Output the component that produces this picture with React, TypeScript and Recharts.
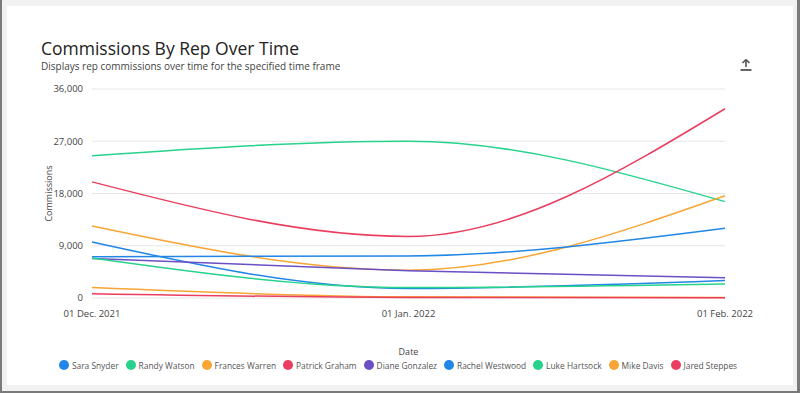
import { LineChart, Line, XAxis, YAxis, CartesianGrid, Legend } from 'recharts';

const dates = ['01 Dec. 2021', '01 Jan. 2022', '01 Feb. 2022'];

const saraSnyder = [9650, 1650, 3000];
const randyWatson = [24500, 27000, 16600];
const francesWarren = [12400, 4800, 17600];
const patrickGraham = [20000, 10600, 32600];
const dianeGonzalez = [6800, 4700, 3500];
const rachelWestwood = [7100, 7250, 12000];
const lukeHartsock = [6900, 1800, 2400];
const mikeDavis = [1800, 200, 100];
const jaredSteppes = [750, 100, 60];

const yTicks = [0, 9000, 18000, 27000, 36000];

const BLUE = '#2186e6';
const GREEN = '#27d38b';
const ORANGE = '#f7a535';
const RED = '#eb3d5f';
const PURPLE = '#6a4fc6';

const series = [
  { key: 'Sara Snyder', values: saraSnyder, color: BLUE },
  { key: 'Randy Watson', values: randyWatson, color: GREEN },
  { key: 'Frances Warren', values: francesWarren, color: ORANGE },
  { key: 'Patrick Graham', values: patrickGraham, color: RED },
  { key: 'Diane Gonzalez', values: dianeGonzalez, color: PURPLE },
  { key: 'Rachel Westwood', values: rachelWestwood, color: BLUE },
  { key: 'Luke Hartsock', values: lukeHartsock, color: GREEN },
  { key: 'Mike Davis', values: mikeDavis, color: ORANGE },
  { key: 'Jared Steppes', values: jaredSteppes, color: RED },
];

const data = dates.map((date, i) => {
  const row: Record<string, string | number> = { date };
  series.forEach((s) => {
    row[s.key] = s.values[i];
  });
  return row;
});

const FONT = '"Open Sans", "Noto Sans", sans-serif';

const ExportIcon = () => (
  <svg width={14} height={14} viewBox="0 0 14 14" style={{ position: 'absolute', left: 737, top: 58 }}>
    <path d="M7 1.5 L3.5 5 M7 1.5 L10.5 5 M7 1.5 L7 9" stroke="#555" strokeWidth={1.6} fill="none" />
    <line x1={1.5} y1={12} x2={12.5} y2={12} stroke="#555" strokeWidth={1.8} />
  </svg>
);

// keep the legend in series order, on one line
const RepLegend = () => (
  <div
    style={{
      height: 20,
      width: 796,
      display: 'flex',
      justifyContent: 'center',
      alignItems: 'center',
      gap: 7,
      fontSize: 8.4,
      color: '#555',
      fontFamily: FONT,
      whiteSpace: 'nowrap',
    }}
  >
    {series.map((s) => (
      <span key={s.key} style={{ display: 'flex', alignItems: 'center', gap: 3 }}>
        <svg width={10} height={10}>
          <circle cx={5} cy={5} r={5} fill={s.color} />
        </svg>
        {s.key}
      </span>
    ))}
  </div>
);

export default function App() {
  return (
    <div
      style={{
        position: 'fixed',
        left: 0,
        top: 0,
        width: 800,
        height: 393,
        boxSizing: 'border-box',
        background: '#f1f1f1',
        borderLeft: '2px solid #7a7a7a',
        borderRight: '3px solid #7a7a7a',
        borderBottom: '2px solid #7a7a7a',
        fontFamily: FONT,
        overflow: 'hidden',
      }}
    >
      <div
        style={{
          position: 'absolute',
          left: 5,
          top: 6,
          width: 786,
          height: 379,
          background: '#fff',
        }}
      />
      <div style={{ position: 'absolute', left: 39, top: 38, fontSize: 17.5, lineHeight: '20px', color: '#222', whiteSpace: 'nowrap' }}>
        Commissions By Rep Over Time
      </div>
      <div style={{ position: 'absolute', left: 39, top: 60, fontSize: 10, lineHeight: '12px', color: '#444', whiteSpace: 'nowrap' }}>
        Displays rep commissions over time for the specified time frame
      </div>
      <ExportIcon />
      <div style={{ position: 'absolute', left: -2, top: 0 }}>
        <LineChart width={800} height={393} data={data} margin={{ top: 89, right: 75, left: 2, bottom: 18 }}>
          <CartesianGrid vertical={false} stroke="#e6e6e6" />
          <XAxis
            dataKey="date"
            axisLine={false}
            tickLine={false}
            tick={{ fontSize: 9.5, fill: '#444', fontFamily: FONT }}
            tickMargin={6}
            height={57}
            label={{ value: 'Date', position: 'insideBottom', offset: 0, fontSize: 9, fill: '#444', fontFamily: FONT }}
          />
          <YAxis
            domain={[0, 36000]}
            ticks={yTicks}
            axisLine={false}
            tickLine={false}
            width={90}
            tickMargin={3}
            tick={{ fontSize: 9.5, fill: '#444', fontFamily: FONT }}
            tickFormatter={(v: number) => v.toLocaleString('en-US')}
            label={{
              value: 'Commissions',
              angle: -90,
              position: 'insideLeft',
              offset: 47,
              style: { textAnchor: 'middle', fontSize: 9, fill: '#444', fontFamily: FONT },
            }}
          />
          <Legend
            verticalAlign="bottom"
            align="left"
            height={20}
            wrapperStyle={{ left: 0, width: 800 }}
            content={() => <RepLegend />}
          />
          {series.map((s) => (
            <Line
              key={s.key}
              type="monotone"
              dataKey={s.key}
              stroke={s.color}
              strokeWidth={1.5}
              dot={false}
              activeDot={false}
              isAnimationActive={false}
            />
          ))}
        </LineChart>
      </div>
    </div>
  );
}
